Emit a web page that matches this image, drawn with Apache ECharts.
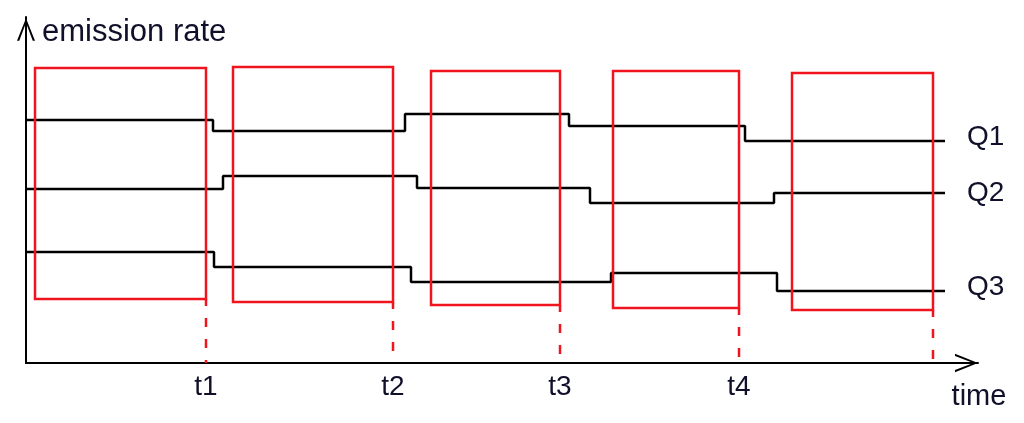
<!DOCTYPE html>
<html>
<head>
<meta charset="utf-8">
<script src="https://cdn.jsdelivr.net/npm/echarts@6/dist/echarts.min.js"></script>
<style>
html,body{margin:0;padding:0;background:#fff;}
#chart{width:1024px;height:423px;}
</style>
</head>
<body>
<div id="chart"></div>
<script>
// ---- data (x: time units, y: emission-rate units) ----
var seriesNames = ['Q1', 'Q2', 'Q3'];
// step change times and levels for each series
var q1Times  = [0, 18.7, 37.9, 54.3, 71.9, 91.9];
var q1Levels = [24.3, 23.2, 24.9, 23.7, 22.2, 22.2];
var q2Times  = [0, 19.7, 39.1, 56.4, 74.8, 91.9];
var q2Levels = [17.4, 18.7, 17.5, 16.0, 17.0, 17.0];
var q3Times  = [0, 18.8, 38.5, 58.5, 75.1, 91.9];
var q3Levels = [11.1, 9.6, 8.1, 9.0, 7.2, 7.2];
// measurement windows (red boxes)
var windowStart  = [0.9, 20.7, 40.5, 58.7, 76.6];
var windowEnd    = [18.0, 36.7, 53.4, 71.3, 90.7];
var windowTop    = [29.5, 29.6, 29.2, 29.2, 29.0];
var windowBottom = [6.4, 6.1, 5.8, 5.5, 5.3];
// x tick labels
var tickValues = [18.0, 36.7, 53.4, 71.3];
var tickLabels = ['t1', 't2', 't3', 't4'];
var xMax = 95.2, yMax = 34.6;

function pairs(xs, ys) { return xs.map(function (x, i) { return [x, ys[i]]; }); }
var stepData = [pairs(q1Times, q1Levels), pairs(q2Times, q2Levels), pairs(q3Times, q3Levels)];
var labelOffsets = [[0, -4], [0, 0], [0, -4]];
var windows = windowStart.map(function (s, i) { return [s, windowEnd[i], windowTop[i], windowBottom[i]]; });

var FONT = 'Liberation Sans';
var RED = '#f0141e';
var TXT = '#10102a';
var upChevron = 'path://M10,0 L20,25 L17.5,25 L10,5 L2.5,25 L0,25 Z';

var chart = echarts.init(document.getElementById('chart'), null, {renderer: 'canvas'});
var option = {
  animation: false,
  backgroundColor: '#fff',
  textStyle: {fontFamily: FONT},
  grid: {left: 26, top: 17, width: 952, height: 346, containLabel: false},
  xAxis: {
    type: 'value', min: 0, max: xMax,
    name: 'time', nameLocation: 'end', nameGap: 1,
    nameTextStyle: {fontFamily: FONT, fontSize: 29, color: TXT, align: 'center', verticalAlign: 'top', padding: [19, 0, 0, 0]},
    axisLine: {show: true, onZero: false, lineStyle: {color: '#000', width: 2},
      symbol: ['none', upChevron], symbolSize: [20, 23], symbolOffset: [0, -11.5]},
    axisTick: {show: false},
    splitLine: {show: false},
    axisLabel: {show: true, customValues: tickValues, margin: 10, fontFamily: FONT, fontSize: 28, color: TXT,
      formatter: function (v) {
        for (var i = 0; i < tickValues.length; i++) { if (Math.abs(tickValues[i] - v) < 1e-6) return tickLabels[i]; }
        return '';
      }}
  },
  yAxis: {
    type: 'value', min: 0, max: yMax,
    name: 'emission rate', nameLocation: 'end', nameGap: -15,
    nameTextStyle: {fontFamily: FONT, fontSize: 31, color: TXT, align: 'left', verticalAlign: 'middle', padding: [0, 0, 0, 16]},
    axisLine: {show: true, onZero: false, lineStyle: {color: '#000', width: 2},
      symbol: ['none', upChevron], symbolSize: [18, 25], symbolOffset: [0, -12.5]},
    axisTick: {show: false},
    axisLabel: {show: false},
    splitLine: {show: false}
  },
  series: stepData.map(function (d, i) {
    return {
      type: 'line', name: seriesNames[i], data: d, step: 'end',
      symbol: 'none', z: 2,
      lineStyle: {color: '#000', width: 2.5},
      endLabel: {show: true, formatter: '{a}', distance: 22, offset: labelOffsets[i],
        fontFamily: FONT, fontSize: 28, color: TXT}
    };
  }).concat([{
    type: 'custom', name: 'windows', z: 5,
    data: windows,
    renderItem: function (params, api) {
      var p0 = api.coord([api.value(0), api.value(2)]);
      var p1 = api.coord([api.value(1), api.value(3)]);
      var base = api.coord([api.value(1), 0]);
      return {
        type: 'group',
        children: [{
          type: 'rect',
          shape: {x: p0[0], y: p0[1], width: p1[0] - p0[0], height: p1[1] - p0[1]},
          style: {fill: null, stroke: RED, lineWidth: 2.5}
        }, {
          type: 'line',
          shape: {x1: p1[0], y1: p1[1], x2: base[0], y2: base[1]},
          style: {stroke: RED, lineWidth: 2.5, lineDash: [9, 12], lineDashOffset: 2}
        }]
      };
    }
  }])
};
chart.setOption(option);
</script>
</body>
</html>
